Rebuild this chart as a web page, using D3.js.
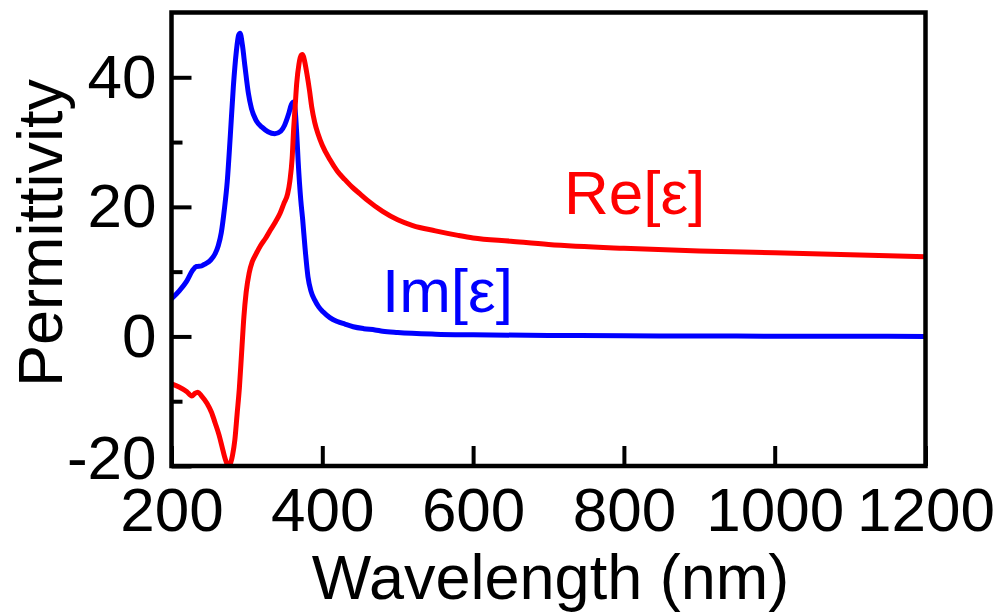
<!DOCTYPE html>
<html>
<head>
<meta charset="utf-8">
<script src="https://cdn.jsdelivr.net/npm/d3@7"></script>
<style>
  html, body { margin: 0; padding: 0; background: #fff; }
  svg { display: block; }
</style>
</head>
<body>
<svg id="chart" width="1005" height="614"></svg>
<script>
// ---- data ----
const reWavelength = [200,210,220,227,231,235,240,247,253,258,263,267,271,275,278,281,284,287,290,293,296,299,303,307,312,318,325,331,338,344,349,354,357,360,362,364,366,369,372,374,376.5,379.5,383,386,390,394.5,400,410,420,430,440,450,460,480,500,520,550,580,600,650,700,800,900,1000,1100,1200];
const reValue = [-7.3,-7.8,-8.5,-9.2,-8.8,-8.6,-9.2,-10.3,-11.7,-13.4,-15.2,-17,-18.8,-19.9,-19.6,-18.3,-16,-12,-8,-2.5,3,6.8,9.8,11.5,12.7,14,15.2,16.4,17.7,19,20.5,22,24,27.5,32,35.5,39,42,43.4,43.5,42.5,40.6,38,35.4,33,31.2,29.5,27.3,25.5,24.2,23,22,21,19.3,18,17.1,16.3,15.6,15.2,14.7,14.2,13.6,13.2,12.9,12.6,12.3];

const imWavelength = [200,210,220,228,233,240,245,252,258,262,266,270,274,278,282,286,289,291,294,297.5,302,306,312,320,328,337,345,350,355,359,362,364,366,368,371.5,374,377,381,385,390,395,401,410,420,430,441,455,470,480,500,550,600,700,800,900,1000,1100,1200];
const imValue = [5.8,7.0,8.5,10.2,10.8,10.9,11.2,11.8,12.8,14.0,16.0,19.5,24,31,38.5,44,46.5,46.8,45,41.6,37.5,35.2,33.4,32.3,31.6,31.3,31.7,32.6,34.2,35.8,36.2,35,31.5,27,21,18,13.8,9.2,7,5.6,4.6,3.8,2.9,2.3,1.9,1.5,1.2,1.0,0.8,0.6,0.35,0.25,0.15,0.1,0.06,0.04,0.02,0.0];

const xMajorTicks = [200,400,600,800,1000,1200];
const yMajorTicks = [-20,0,20,40];
const yMinorTicks = [-10,10,30];

const xTitle = "Wavelength (nm)";
const yTitle = "Permittivity";
const reLabel = "Re[ε]";
const imLabel = "Im[ε]";

// ---- layout ----
const mLeft = 171.5, mRight = 925.5, mTop = 12.5, mBottom = 466;
const font = "'Liberation Sans', Arial, sans-serif";

const svg = d3.select("#chart");
const x = d3.scaleLinear().domain([200, 1200]).range([mLeft, mRight]);
const y = d3.scaleLinear().domain([-20, 50]).range([mBottom, mTop]);

// curves
const line = d3.line().x(d => x(d[0])).y(d => y(d[1])).curve(d3.curveMonotoneX);
const reData = reWavelength.map((w, i) => [w, reValue[i]]);
const imData = imWavelength.map((w, i) => [w, imValue[i]]);

svg.append("clipPath").attr("id", "clip").append("rect")
  .attr("x", mLeft).attr("y", mTop).attr("width", mRight - mLeft).attr("height", mBottom - mTop);

svg.append("path").datum(imData).attr("d", line)
  .attr("fill", "none").attr("stroke", "#0000ff").attr("stroke-width", 5)
  .attr("stroke-linejoin", "round").attr("clip-path", "url(#clip)");
svg.append("path").datum(reData).attr("d", line)
  .attr("fill", "none").attr("stroke", "#ff0000").attr("stroke-width", 5)
  .attr("stroke-linejoin", "round").attr("clip-path", "url(#clip)");

// axes
const fmt = d => String(d);
const xAxis = svg.append("g").attr("transform", `translate(0,${mBottom})`)
  .call(d3.axisBottom(x).tickValues(xMajorTicks).tickSize(-20).tickPadding(21).tickFormat(fmt));
const yAxis = svg.append("g").attr("transform", `translate(${mLeft},0)`)
  .call(d3.axisLeft(y).tickValues(yMajorTicks).tickSize(-20).tickPadding(15).tickFormat(fmt));
const yMinor = svg.append("g").attr("transform", `translate(${mLeft},0)`)
  .call(d3.axisLeft(y).tickValues(yMinorTicks).tickSize(-11).tickFormat(""));

[xAxis, yAxis, yMinor].forEach(g => {
  g.select(".domain").remove();
  g.selectAll(".tick line").attr("stroke", "#000").attr("stroke-width", 4);
  g.selectAll(".tick text").attr("fill", "#000")
    .style("font-family", font).style("font-size", "62px");
});
// lowest y label sits slightly higher, as in the reference
yAxis.selectAll(".tick text").filter(d => d === -20).attr("dy", "0.2em");

// frame
svg.append("rect")
  .attr("x", mLeft).attr("y", mTop).attr("width", mRight - mLeft).attr("height", mBottom - mTop)
  .attr("fill", "none").attr("stroke", "#000").attr("stroke-width", 4.5);

// titles
svg.append("text").attr("x", (mLeft + mRight) / 2 + 2).attr("y", 599)
  .attr("text-anchor", "middle").style("font-family", font).style("font-size", "63px")
  .attr("fill", "#000").text(xTitle);
svg.append("text").attr("transform", "translate(62,233) rotate(-90)")
  .attr("text-anchor", "middle").style("font-family", font).style("font-size", "63px")
  .attr("fill", "#000").text(yTitle);

// series labels
svg.append("text").attr("x", 564).attr("y", 214)
  .style("font-family", font).style("font-size", "62px").attr("fill", "#ff0000").text(reLabel);
svg.append("text").attr("x", 382).attr("y", 312)
  .style("font-family", font).style("font-size", "62px").attr("fill", "#0000ff").text(imLabel);
</script>
</body>
</html>
